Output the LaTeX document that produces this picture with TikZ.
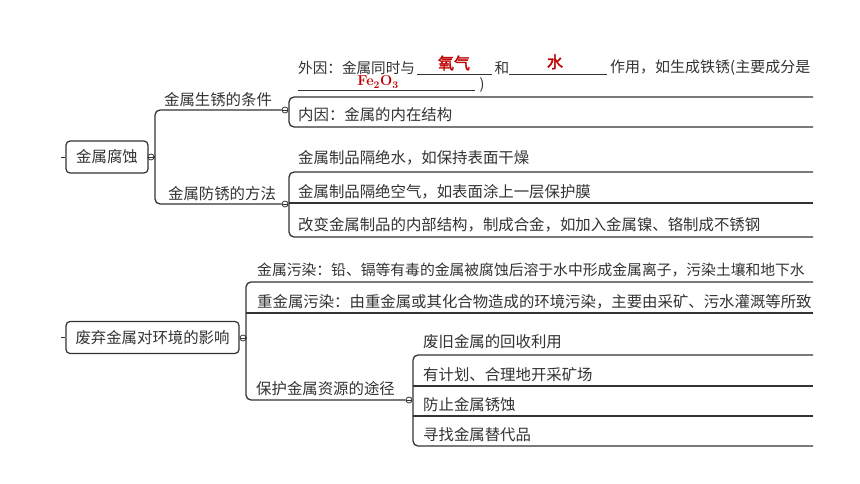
\documentclass[tikz,border=0pt]{standalone}
\usepackage{fontspec}
\newfontfamily\cjk{Noto Sans CJK SC}
\newfontfamily\cjkbold[FakeBold=2]{Noto Sans CJK SC}
\definecolor{ink}{HTML}{333333}
\definecolor{answer}{HTML}{C00000}

\begin{document}
\begin{tikzpicture}[x=1pt, y=-1pt,
		every node/.style={font=\cjk\fontsize{15.4}{16}\selectfont, text=ink, inner sep=0pt},
		root/.style={draw=ink, line width=1.2pt, rounded corners=4pt, minimum height=32pt},
		fold/.style={draw=ink, circle, line width=0.8pt, minimum size=6pt, fill=white},
		branch/.style={draw=ink, line width=1.3pt},
		blank/.style={draw=ink, line width=1pt},
		smalltext/.style={font=\cjk\fontsize{14.6}{16}\selectfont},
		answer/.style={font=\cjkbold\fontsize{16}{16}\selectfont, text=answer}]
	\fill[white] (0,0) rectangle (860,484);
	\useasboundingbox (0,0) rectangle (860,484);
	
	% first root
	\node[root, minimum width=82pt] (corrosion) at (107,157) {金属腐蚀};
	\draw[branch, line width=0.8pt] (corrosion.west) -- ++(-4,0);
	\node[fold] (corrosionfold) at (151,157) {};
	\draw[ink, line width=0.6pt] (corrosionfold.west) -- (corrosionfold.east);
	\coordinate (trunkA) at (155,157);
	\node[fold] (rustfold) at (285,110) {};
	\draw[ink, line width=0.6pt] (rustfold.west) -- (rustfold.east);
	\node[fold] (guardfold) at (285,204) {};
	\draw[ink, line width=0.6pt] (guardfold.west) -- (guardfold.east);
	\draw[branch] (corrosionfold) -- (trunkA);
	\draw[branch, rounded corners=5pt] (rustfold.west) -| (trunkA) |- (guardfold.west);
	\node (rust) at (218,100) {金属生锈的条件};
	\node (guard) at (222,194) {金属防锈的方法};
	
	% conditions of rusting
	\draw[branch, rounded corners=5pt] (813,97) -- (289,97) -- (289,127) -- (813,127);
	\node[anchor=west, smalltext] (outer) at (298,68) {外因：金属同时与};
	\draw[blank] (417,75) -- (492,75);
	\node[answer] (oxygen) at (454,63) {氧气};
	\node[smalltext] (and) at (502,68) {和};
	\draw[blank] (509,75) -- (607,75);
	\node[answer] (water) at (555,62) {水};
	\node[anchor=west, font=\cjk\fontsize{15}{16}\selectfont] (effect) at (610,68) {作用，如生成铁锈(主要成分是};
	\draw[blank] (298,91) -- (475,91);
	\node[font=\bfseries\fontsize{14.5}{14}\selectfont, text=answer] (formula) at (378,82) {Fe\textsubscript{2}O\textsubscript{3}};
	\node[smalltext] (closing) at (482,85) {)};
	\node[anchor=west] (inner) at (298,115) {内因：金属的内在结构};
	
	% ways of preventing rust
	\draw[branch, rounded corners=5pt] (813,172) -- (289,172) -- (289,237) -- (813,237);
	\draw[branch] (289,203) -- (813,203);
	\node[anchor=west] (dry) at (298,158) {金属制品隔绝水，如保持表面干燥};
	\node[anchor=west] (coat) at (298,192) {金属制品隔绝空气，如表面涂上一层保护膜};
	\node[anchor=west] (alloy) at (298,225) {改变金属制品的内部结构，制成合金，如加入金属镍、铬制成不锈钢};
	
	% second root
	\node[root, minimum width=173pt] (waste) at (152.5,337.5) {废弃金属对环境的影响};
	\draw[branch, line width=0.8pt] (waste.west) -- ++(-4,0);
	\node[fold] (wastefold) at (243,338) {};
	\draw[ink, line width=0.6pt] (wastefold.west) -- (wastefold.east);
	\coordinate (trunkB) at (246,338);
	\node[fold] (resourcefold) at (409,400) {};
	\draw[ink, line width=0.6pt] (resourcefold.west) -- (resourcefold.east);
	\draw[branch] (wastefold) -- (trunkB);
	\draw[branch, rounded corners=5pt] (813,282) -| (trunkB) |- (resourcefold.west);
	\draw[branch] (246,313) -- (813,313);
	\node[anchor=west, font=\cjk\fontsize{14.8}{16}\selectfont] (pollution) at (257,270) {金属污染：铅、镉等有毒的金属被腐蚀后溶于水中形成金属离子，污染土壤和地下水};
	\node[anchor=west] (heavy) at (257,302) {重金属污染：由重金属或其化合物造成的环境污染，主要由采矿、污水灌溉等所致};
	\node[anchor=west] (protect) at (256,389) {保护金属资源的途径};
	
	% ways of protecting resources
	\draw[branch, rounded corners=5pt] (813,355) -- (413,355) -- (413,446) -- (813,446);
	\draw[branch] (413,386) -- (813,386);
	\draw[branch] (413,416) -- (813,416);
	\node[anchor=west] (recycle) at (423,342) {废旧金属的回收利用};
	\node[anchor=west] (mining) at (423,375) {有计划、合理地开采矿场};
	\node[anchor=west] (prevent) at (423,405) {防止金属锈蚀};
	\node[anchor=west] (substitute) at (423,435) {寻找金属替代品};
\end{tikzpicture}
\end{document}
